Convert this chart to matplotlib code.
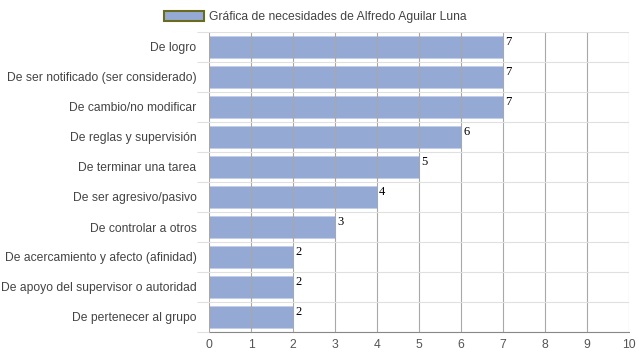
import matplotlib.pyplot as plt
import numpy as np

plt.rcParams['font.family'] = ['Liberation Sans', 'DejaVu Sans']

categories = [
    "De logro",
    "De ser notificado (ser considerado)",
    "De cambio/no modificar",
    "De reglas y supervisión",
    "De terminar una tarea",
    "De ser agresivo/pasivo",
    "De controlar a otros",
    "De acercamiento y afecto (afinidad)",
    "De apoyo del supervisor o autoridad",
    "De pertenecer al grupo",
]
values = [7, 7, 7, 6, 5, 4, 3, 2, 2, 2]
series_name = "Gráfica de necesidades de Alfredo Aguilar Luna"

bar_color = "#94a9d4"

fig = plt.figure(figsize=(6.39, 3.6), dpi=100)
ax = fig.add_axes([209 / 639, 28 / 360, 420 / 639, 300 / 360])

y = np.arange(len(categories))
bars = ax.barh(y, values, height=0.74, color=bar_color, edgecolor="#c3cfe8",
               linewidth=0.6, label=series_name, zorder=1)

for yi, v in zip(y, values):
    ax.text(v + 0.05, yi - 0.36, str(v), family="Liberation Serif", fontsize=9,
            color="black", va="top", ha="left", zorder=4)

ax.set_xlim(0, 10)
ax.set_ylim(len(categories) - 0.5, -0.5)
ax.set_xticks(range(0, 11))
ax.set_yticks(y)
ax.set_yticklabels(categories)
ax.set_yticks(np.arange(len(categories) + 1) - 0.5, minor=True)

ax.grid(axis="x", color="#a8a8a8", linewidth=0.8, zorder=3)
ax.grid(axis="y", which="minor", color="#e0e0e0", linewidth=0.8)
ax.set_axisbelow(False)

ax.tick_params(axis="y", which="major", length=0, pad=9, labelsize=8.7, labelcolor="#444444")
ax.tick_params(axis="y", which="minor", length=9, color="#e0e0e0", width=0.8)
ax.tick_params(axis="x", length=0, pad=5, labelsize=8.7, labelcolor="#555555")

for side in ["top", "right", "left"]:
    ax.spines[side].set_visible(False)
ax.spines["bottom"].set_color("#888888")
ax.spines["bottom"].set_linewidth(0.8)

leg = fig.legend(handles=[bars], labels=[series_name], loc="upper center",
                 bbox_to_anchor=(0.493, 1.0), frameon=False, fontsize=8.7,
                 handlelength=3.3, handleheight=0.9, handletextpad=0.4,
                 labelcolor="#444444")
leg.legend_handles[0].set_edgecolor("#6b6b1e")
leg.legend_handles[0].set_linewidth(1.5)

fig.savefig("out.png", dpi=100)
